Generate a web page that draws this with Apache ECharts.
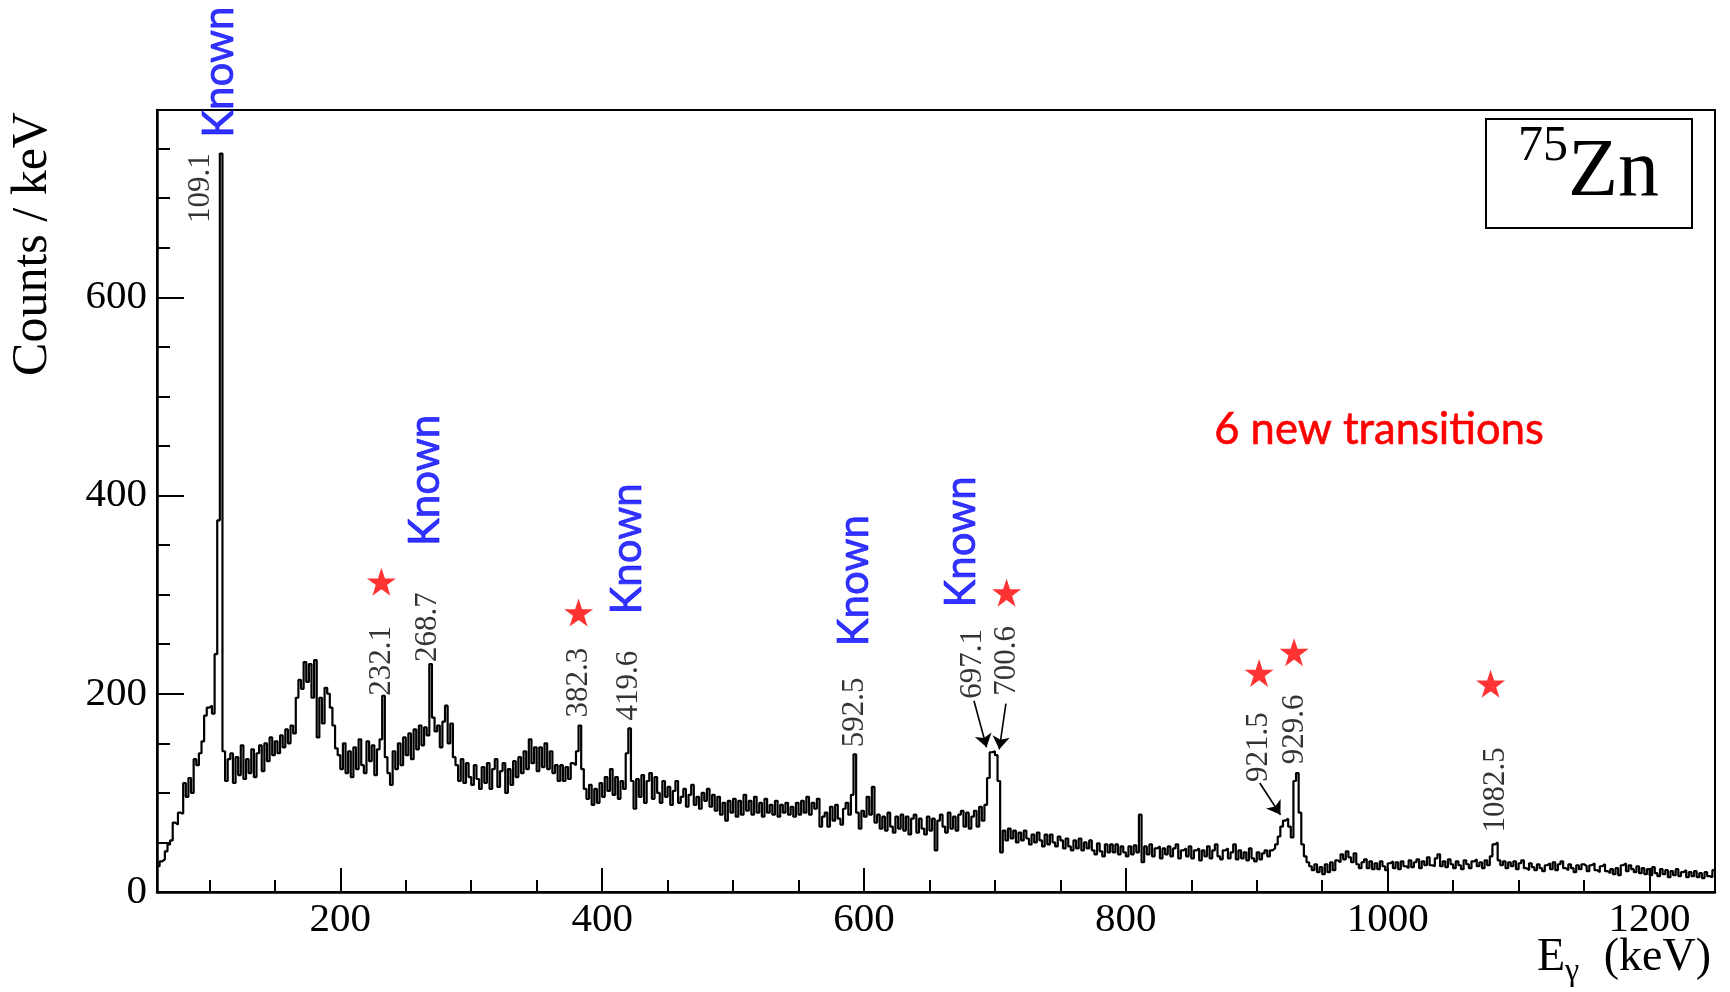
<!DOCTYPE html>
<html><head><meta charset="utf-8">
<script src="https://cdn.jsdelivr.net/npm/echarts@6/dist/echarts.min.js"></script>
<style>html,body{margin:0;padding:0;background:#fff}#c{width:1730px;height:992px}</style>
</head><body><div id="c"></div>
<script>
// ---------------- DATA ----------------
const binStart = 60;   // keV, lower edge of first histogram bin
const binWidth = 2;    // keV per bin
// counts per keV, one value per 2-keV bin
const counts = [
  /*  60 */ 26, 31, 33, 41, 48, 52, 70, 68, 80, 79,
  /*  80 */ 110, 96, 115, 100, 134, 128, 140, 152, 178, 186,
  /* 100 */ 188, 180, 240, 375, 745,
  /* 110 */ 142, 112, 134, 140, 110, 136, 118, 148, 114, 134,
  /* 130 */ 120, 144, 116, 140, 148, 122, 150, 132, 156, 138,
  /* 150 */ 152, 140, 158, 146, 164, 150, 168, 160, 196, 214,
  /* 170 */ 205, 232, 212, 230, 196, 234, 156, 196, 170, 206,
  /* 190 */ 200, 186, 168, 145, 138, 124, 150, 120, 142, 116,
  /* 210 */ 146, 124, 154, 128, 120, 152, 132, 148, 118, 144,
  /* 230 */ 154, 198, 136, 120, 108, 142, 124, 150, 128, 156,
  /* 250 */ 138, 160, 134, 164, 144, 168, 148, 166, 158, 230,
  /* 270 */ 176, 162, 168, 146, 172, 188, 150, 170, 136, 128,
  /* 290 */ 112, 134, 110, 130, 116, 108, 128, 114, 104, 126,
  /* 310 */ 110, 130, 104, 124, 134, 106, 122, 130, 100, 124,
  /* 330 */ 108, 132, 116, 136, 120, 142, 124, 154, 130, 146,
  /* 350 */ 122, 146, 126, 150, 124, 142, 120, 128, 112, 128,
  /* 370 */ 112, 126, 114, 130, 128, 142, 168, 124, 104, 94,
  /* 390 */ 108, 88, 104, 90, 110, 96, 116, 102, 124, 98,
  /* 410 */ 116, 94, 112, 104, 140, 165, 112, 84, 114, 96,
  /* 430 */ 118, 90, 112, 120, 94, 116, 100, 90, 112, 96,
  /* 450 */ 106, 88, 102, 112, 90, 96, 104, 86, 98, 108,
  /* 470 */ 88, 96, 84, 100, 92, 104, 86, 98, 82, 96,
  /* 490 */ 78, 90, 72, 92, 80, 94, 76, 92, 78, 98,
  /* 510 */ 82, 92, 78, 96, 80, 90, 76, 94, 80, 88,
  /* 530 */ 78, 92, 76, 88, 80, 90, 78, 86, 76, 90,
  /* 550 */ 78, 92, 80, 96, 78, 90, 84, 94, 66, 76,
  /* 570 */ 80, 66, 86, 72, 88, 74, 68, 84, 90, 78,
  /* 590 */ 98, 139, 80, 64, 82, 76, 96, 78, 106, 70,
  /* 610 */ 78, 64, 76, 62, 80, 66, 60, 76, 64, 78,
  /* 630 */ 62, 76, 58, 74, 78, 60, 74, 64, 58, 76,
  /* 650 */ 62, 74, 42, 72, 78, 66, 60, 80, 64, 76,
  /* 670 */ 62, 78, 82, 66, 80, 64, 76, 82, 66, 86,
  /* 690 */ 72, 88, 115, 141, 142, 138, 112, 40, 62, 52,
  /* 710 */ 64, 54, 62, 50, 60, 52, 62, 54, 48, 58,
  /* 730 */ 50, 60, 52, 46, 58, 48, 58, 50, 46, 56,
  /* 750 */ 52, 44, 54, 46, 42, 52, 44, 54, 42, 50,
  /* 770 */ 44, 52, 42, 38, 49, 41, 36, 48, 40, 48,
  /* 790 */ 40, 48, 38, 46, 40, 36, 46, 38, 47, 40,
  /* 810 */ 78, 30, 46, 38, 48, 36, 44, 46, 34, 44,
  /* 830 */ 38, 46, 36, 44, 48, 34, 42, 44, 36, 46,
  /* 850 */ 34, 42, 44, 32, 42, 36, 46, 34, 42, 48,
  /* 870 */ 36, 33, 42, 44, 34, 40, 48, 33, 42, 34,
  /* 890 */ 40, 32, 44, 34, 31, 40, 33, 39, 42, 36,
  /* 910 */ 42, 44, 48, 56, 66, 72, 74, 66, 55, 112,
  /* 930 */ 120, 80, 48, 36, 30, 26, 22, 28, 20, 25,
  /* 950 */ 18, 28, 20, 30, 22, 32, 30, 38, 33, 41,
  /* 970 */ 35, 30, 39, 28, 24, 30, 33, 24, 31, 23,
  /* 990 */ 29, 23, 31, 26, 22, 29, 31, 24, 30, 23,
  /*1010 */ 31, 26, 24, 32, 25, 30, 33, 24, 31, 27,
  /*1030 */ 35, 27, 26, 34, 38, 26, 31, 25, 33, 28,
  /*1050 */ 24, 31, 27, 23, 32, 28, 24, 31, 33, 26,
  /*1070 */ 30, 24, 32, 27, 36, 48, 50, 32, 27, 31,
  /*1090 */ 24, 30, 26, 31, 23, 29, 32, 24, 22, 29,
  /*1110 */ 25, 22, 28, 24, 21, 27, 29, 23, 30, 22,
  /*1130 */ 28, 31, 24, 22, 28, 24, 20, 27, 23, 28,
  /*1150 */ 26, 21, 27, 29, 22, 20, 26, 28, 21, 19,
  /*1170 */ 23, 18, 24, 17, 27, 29, 21, 27, 23, 20,
  /*1190 */ 26, 19, 24, 18, 23, 17, 25, 19, 16, 23,
  /*1210 */ 18, 22, 15, 21, 17, 23, 16, 20, 22, 15,
  /*1230 */ 20, 16, 21, 15, 19, 14, 20, 16, 15, 22
];
const xRange = [60, 1250];
const yRange = [0, 789];
const xMajorTicks = [200, 400, 600, 800, 1000, 1200];
const xMinorTicks = [100, 150, 250, 300, 350, 450, 500, 550, 650, 700, 750, 850, 900, 950, 1050, 1100, 1150];
const yMajorTicks = [0, 200, 400, 600];
const yMinorTicks = [50, 100, 150, 250, 300, 350, 450, 500, 550, 650, 700, 750];
const peakLabels = ['109.1', '232.1', '268.7', '382.3', '419.6', '592.5', '697.1', '700.6', '921.5', '929.6', '1082.5'];
const knownText = 'Known';
const nucleusMass = '75';
const nucleusSymbol = 'Zn';
const noteText = '6 new transitions';
const yTitle = 'Counts / keV';

// ---------------- ANNOTATION LAYOUT (data units) ----------------
const peakLabelAnchor = [[93.8,675],[231.8,198],[266.6,232],[382,176],[420.4,173],[593,146],[683,195],[709,198],[901.5,111],[929,129],[1082.4,60]];
const knownAnchor = [[107.6,761],[265.3,349],[419,280],[592.7,248],[674.6,287]];
const starAnchor = [[231.4,313],[382,282],[708.9,302],[901.8,221],[928.5,242],[1078.6,210]];
const arrowSegments = [[[684,193],[693.6,146]],[[708.4,190],[703.3,144]],[[902.3,110],[918.1,78]]];

// ---------------- BUILD ----------------
const histData = [[xRange[0], counts[0]]];
counts.forEach((c, i) => histData.push([binStart + binWidth * (i + 0.5), c]));
histData.push([xRange[0] + binWidth * counts.length, counts[counts.length - 1]]);

const SERIF = '"Liberation Serif", "Times New Roman", serif';
const SANS = 'Lato, "Open Sans", sans-serif';
const STAR = 'path://M50,0 L61.8,35.1 L98.9,35.1 L68.9,56.8 L80.3,91.9 L50,70.2 L19.7,91.9 L31.1,56.8 L1.1,35.1 L38.2,35.1 Z';

const chart = echarts.init(document.getElementById('c'), null, {renderer: 'canvas'});
const option = {
  animation: false,
  backgroundColor: '#fff',
  grid: {left: 157, right: 15, top: 110, bottom: 100, show: true, borderColor: '#000', borderWidth: 2, backgroundColor: 'transparent'},
  xAxis: [
    {type: 'value', min: xRange[0], max: xRange[1], position: 'bottom',
     axisLine: {show: true, onZero: false, lineStyle: {color: '#000', width: 2.5}},
     axisTick: {show: true, inside: true, length: 24, lineStyle: {color: '#000', width: 2}, customValues: xMajorTicks},
     axisLabel: {show: true, margin: 8, color: '#000', fontFamily: SERIF, fontSize: 41, customValues: xMajorTicks,
                 formatter: v => String(v)},
     splitLine: {show: false}},
    {type: 'value', min: xRange[0], max: xRange[1], position: 'bottom',
     axisLine: {show: false, onZero: false},
     axisTick: {show: true, inside: true, length: 12, lineStyle: {color: '#000', width: 2}, customValues: xMinorTicks},
     axisLabel: {show: false}, splitLine: {show: false}}
  ],
  yAxis: [
    {type: 'value', min: yRange[0], max: yRange[1], position: 'left',
     axisLine: {show: true, onZero: false, lineStyle: {color: '#000', width: 2.5}},
     axisTick: {show: true, inside: true, length: 27, lineStyle: {color: '#000', width: 2}, customValues: yMajorTicks},
     axisLabel: {show: true, margin: 10, color: '#000', fontFamily: SERIF, fontSize: 41, customValues: yMajorTicks,
                 formatter: v => String(v)},
     splitLine: {show: false}},
    {type: 'value', min: yRange[0], max: yRange[1], position: 'left', offset: 0,
     axisLine: {show: false, onZero: false},
     axisTick: {show: true, inside: true, length: 13, lineStyle: {color: '#000', width: 2}, customValues: yMinorTicks},
     axisLabel: {show: false}, splitLine: {show: false}}
  ],
  series: [
    {type: 'line', step: 'middle', data: histData, showSymbol: false, symbol: 'none',
     lineStyle: {color: '#000', width: 2.2}, silent: true, z: 3},
    {type: 'scatter', symbolSize: 1, itemStyle: {color: 'transparent'}, silent: true, z: 5, clip: false,
     data: peakLabels.map((t, i) => ({name: t, value: peakLabelAnchor[i]})),
     label: {show: true, formatter: '{b}', position: 'inside', rotate: 90, align: 'left', verticalAlign: 'middle',
             color: '#000', fontFamily: SERIF, fontSize: 31},
     markLine: {silent: true, symbol: ['none', 'arrow'], symbolSize: 13, label: {show: false},
                lineStyle: {color: '#000', width: 1.6, type: 'solid'},
                data: arrowSegments.map(s => [{coord: s[0]}, {coord: s[1]}])}},
    {type: 'scatter', symbolSize: 1, itemStyle: {color: 'transparent'}, silent: true, z: 5, clip: false,
     data: knownAnchor.map(p => ({name: knownText, value: p})),
     label: {show: true, formatter: '{b}', position: 'inside', rotate: 90, align: 'left', verticalAlign: 'middle',
             color: '#0000FF', fontFamily: SANS, fontSize: 42, textBorderColor: '#0000FF', textBorderWidth: 0.7}},
    {type: 'scatter', symbol: STAR, symbolSize: [29, 28], silent: true, z: 5,
     itemStyle: {color: '#FF0000'}, data: starAnchor}
  ],
  graphic: [
    {type: 'text', x: 33, y: 244, rotation: Math.PI / 2, z: 10,
     style: {text: yTitle, font: '50px ' + SERIF, fill: '#000', align: 'center', verticalAlign: 'middle'}},
    {type: 'text', x: 1537, y: 958, z: 10,
     style: {text: 'E', font: '46px ' + SERIF, fill: '#000', align: 'left', verticalAlign: 'middle'}},
    {type: 'text', x: 1565, y: 972, z: 10,
     style: {text: 'γ', font: '32px ' + SERIF, fill: '#000', align: 'left', verticalAlign: 'middle'}},
    {type: 'text', x: 1711, y: 958, z: 10,
     style: {text: '(keV)', font: '46px ' + SERIF, fill: '#000', align: 'right', verticalAlign: 'middle'}},
    {type: 'rect', shape: {x: 1486, y: 119, width: 206, height: 109}, z: 10,
     style: {fill: '#fff', stroke: '#000', lineWidth: 2}},
    {type: 'text', x: 1518, y: 147, z: 11,
     style: {text: nucleusMass, font: '50px ' + SERIF, fill: '#000', align: 'left', verticalAlign: 'middle'}},
    {type: 'text', x: 1568, y: 173, z: 11,
     style: {text: nucleusSymbol, font: '82px ' + SERIF, fill: '#000', align: 'left', verticalAlign: 'middle'}},
    {type: 'text', x: 1379, y: 430, z: 10,
     style: {text: noteText, font: '43.5px ' + SANS, fill: '#FF0000', align: 'center', verticalAlign: 'middle',
             stroke: '#FF0000', lineWidth: 0.6}}
  ]
};
chart.setOption(option);
</script></body></html>
